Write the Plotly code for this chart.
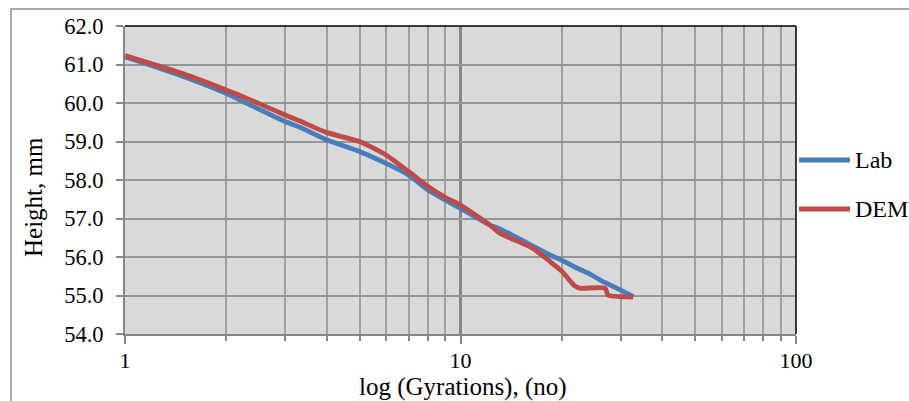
import plotly.graph_objects as go

# Data
lab_x = [1, 1.5, 2, 2.31, 3, 3.32, 4, 5, 6, 7, 8, 9, 10, 12.24, 13.1, 16.4, 18.5, 20, 21.9, 24.4, 26.1, 27.2, 30, 32.7]
lab_y = [61.2, 60.68, 60.25, 59.99, 59.52, 59.37, 59.04, 58.74, 58.43, 58.13, 57.74, 57.48, 57.26, 56.83, 56.73, 56.29, 56.05, 55.92, 55.74, 55.55, 55.40, 55.32, 55.14, 54.97]

dem_x = [1, 1.5, 2, 2.31, 3, 3.32, 4, 5, 6, 7, 8, 9, 10, 12.24, 13.1, 16.4, 18.5, 20, 20.7, 21.9, 22.7, 27.0, 27.5, 30, 32.7]
dem_y = [61.23, 60.75, 60.34, 60.12, 59.69, 59.53, 59.23, 59.0, 58.65, 58.22, 57.83, 57.55, 57.35, 56.83, 56.62, 56.23, 55.88, 55.64, 55.49, 55.25, 55.19, 55.19, 55.01, 54.97, 54.96]

series_names = ["Lab", "DEM"]
series_colors = ["#4A7EBB", "#BE4B48"]

x_major = [1, 10, 100]
x_minor = [2, 3, 4, 5, 6, 7, 8, 9, 20, 30, 40, 50, 60, 70, 80, 90]
y_ticks = [54, 55, 56, 57, 58, 59, 60, 61, 62]

FONT = "Liberation Serif"

fig = go.Figure()
for xs, ys, nm, col in [(lab_x, lab_y, series_names[0], series_colors[0]),
                        (dem_x, dem_y, series_names[1], series_colors[1])]:
    fig.add_trace(go.Scatter(x=xs, y=ys, mode="lines", name=nm, showlegend=False,
                             line=dict(color=col, width=4.8, shape="spline", smoothing=0.5)))

W, H = 909, 401
L, R, T, B = 125, 113, 26, 67
pw, ph = W - L - R, H - T - B

def px2paper_x(p):
    return (p - L) / pw

def px2paper_y(p):
    return (H - B - p) / ph

shapes = [
    # outer chart border (left/top visible)
    dict(type="rect", xref="paper", yref="paper",
         x0=px2paper_x(11), x1=px2paper_x(930), y0=px2paper_y(420), y1=px2paper_y(9),
         line=dict(color="#8C8C8C", width=1.5), fillcolor="rgba(0,0,0,0)", layer="below"),
    # plot area top/right border
    dict(type="line", xref="paper", yref="paper", x0=0, x1=1, y0=1, y1=1,
         line=dict(color="black", width=1.5)),
    dict(type="line", xref="paper", yref="paper", x0=1, x1=1, y0=0, y1=1,
         line=dict(color="black", width=1.5)),
]
annotations = [
    dict(text="log (Gyrations), (no)", xref="paper", yref="paper",
         x=px2paper_x(463), y=px2paper_y(387), xanchor="center", yanchor="middle",
         showarrow=False, font=dict(family=FONT, size=25)),
    dict(text="Height, mm", xref="paper", yref="paper", textangle=-90,
         x=px2paper_x(33), y=px2paper_y(197), xanchor="center", yanchor="middle",
         showarrow=False, font=dict(family=FONT, size=25)),
]

# legend (drawn as keys + text)
legend_y_px = [160, 209]
for nm, col, ly in zip(series_names, series_colors, legend_y_px):
    shapes.append(dict(type="line", xref="paper", yref="paper",
                       x0=px2paper_x(799), x1=px2paper_x(850),
                       y0=px2paper_y(ly), y1=px2paper_y(ly),
                       line=dict(color=col, width=4.8)))
    annotations.append(dict(text=nm, xref="paper", yref="paper",
                            x=px2paper_x(853), y=px2paper_y(ly), xanchor="left", yanchor="middle",
                            showarrow=False, font=dict(family=FONT, size=24)))

fig.update_layout(
    width=W, height=H,
    margin=dict(l=L, r=R, t=T, b=B, pad=0),
    paper_bgcolor="white",
    plot_bgcolor="#D9D9D9",
    font=dict(family=FONT, color="black", size=20),
    showlegend=False,
    xaxis=dict(
        type="log", range=[0, 2],
        tickmode="array", tickvals=x_major, ticktext=[str(v) for v in x_major],
        ticks="outside", ticklen=8, tickwidth=2, tickcolor="#868686",
        showgrid=True, gridcolor="#868686", gridwidth=2.5,
        showline=True, linecolor="#868686", linewidth=2,
        tickfont=dict(family=FONT, size=22),
        ticklabelstandoff=-2,
        minor=dict(tickmode="array", tickvals=x_minor, ticks="outside", ticklen=5,
                   tickwidth=2, tickcolor="#868686",
                   showgrid=True, gridcolor="#A0A0A0", gridwidth=1.5),
        zeroline=False,
    ),
    yaxis=dict(
        range=[54, 62], tickmode="array", tickvals=y_ticks,
        ticktext=[f"{v:.1f}" for v in y_ticks],
        ticks="outside", ticklen=7, tickwidth=2, tickcolor="#868686",
        showgrid=True, gridcolor="#969696", gridwidth=2,
        showline=True, linecolor="#868686", linewidth=2,
        tickfont=dict(family=FONT, size=22.5),
        ticklabelstandoff=8,
        zeroline=False,
    ),
    shapes=shapes,
    annotations=annotations,
)

fig.write_html("out.html")
